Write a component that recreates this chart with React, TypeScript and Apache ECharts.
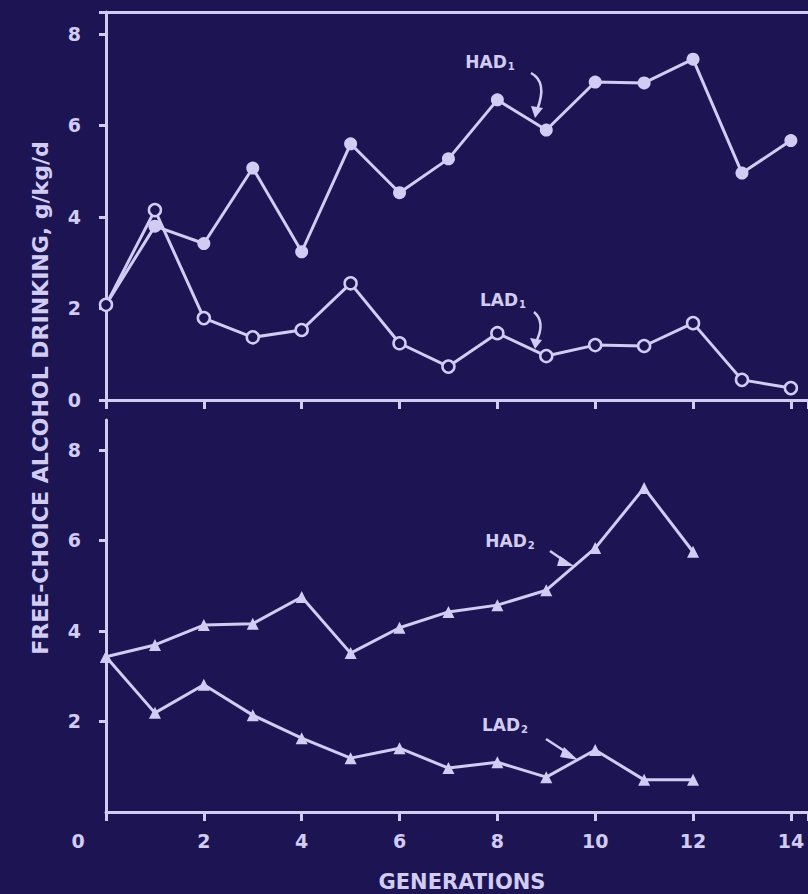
import React, { useEffect, useRef } from "react";
import * as echarts from "echarts";

const GENS_TOP = [0, 1, 2, 3, 4, 5, 6, 7, 8, 9, 10, 11, 12, 13, 14];
const HAD1 = [2.08, 3.8, 3.42, 5.07, 3.24, 5.6, 4.53, 5.27, 6.56, 5.9, 6.95, 6.93, 7.45, 4.96, 5.67];
const LAD1 = [2.08, 4.15, 1.79, 1.37, 1.53, 2.55, 1.24, 0.73, 1.46, 0.96, 1.2, 1.18, 1.68, 0.44, 0.26];

const GENS_BOTTOM = [0, 1, 2, 3, 4, 5, 6, 7, 8, 9, 10, 11, 12];
const HAD2 = [3.43, 3.69, 4.13, 4.16, 4.75, 3.51, 4.07, 4.42, 4.57, 4.9, 5.83, 7.16, 5.75];
const LAD2 = [3.43, 2.19, 2.81, 2.14, 1.63, 1.19, 1.41, 0.97, 1.1, 0.77, 1.37, 0.71, 0.71];

const X_TICKS = [0, 2, 4, 6, 8, 10, 12, 14];
const Y_TICKS_TOP = [0, 2, 4, 6, 8];
const Y_TICKS_BOTTOM = [2, 4, 6, 8];

const Y_TITLE = "FREE-CHOICE ALCOHOL DRINKING, g/kg/d";
const X_TITLE = "GENERATIONS";

const BG = "#1d1553";
const FG = "#d2ccf4";
const FONT = "DejaVu Sans";

function pairs(xs: number[], ys: number[]) {
  return xs.map((x, i) => [x, ys[i]]);
}

export default function App() {
  const ref = useRef<HTMLDivElement>(null);
  useEffect(() => {
    if (!ref.current) return;
    const chart = echarts.init(ref.current, null, { renderer: "svg" });
    const axisLine = { show: true, lineStyle: { color: FG, width: 3 } };
    const labelStyle = { color: FG, fontFamily: FONT, fontWeight: "bold" as const, fontSize: 19 };
    const subRich = {
      a: { fontSize: 17, fontWeight: "bold", fill: FG, fontFamily: FONT },
      s: { fontSize: 10, fontWeight: "bold", fill: FG, fontFamily: FONT, padding: [9, 0, 0, 1] },
    };
    const lbl = (name: string, sub: string, x: number, y: number) => ({
      type: "text",
      x,
      y,
      style: {
        text: `{a|${name}}{s|${sub}}`,
        rich: subRich,
        align: "center",
        verticalAlign: "middle",
      },
    });
    const arrowStyle = { stroke: FG, lineWidth: 2.5, fill: null };

    const option: any = {
      animation: false,
      backgroundColor: BG,
      grid: [
        { left: 106, top: 12, right: 0, height: 388 },
        { left: 106, top: 420, right: 0, height: 392 },
      ],
      xAxis: [
        {
          type: "value", gridIndex: 0, min: 0, max: 14.35, interval: 2,
          axisLine, axisTick: { show: true, length: 9, lineStyle: { color: FG, width: 3 } },
          axisLabel: { show: false }, splitLine: { show: false },
        },
        {
          type: "value", gridIndex: 0, position: "top", min: 0, max: 14.35,
          axisLine, axisTick: { show: false }, axisLabel: { show: false }, splitLine: { show: false },
        },
        {
          type: "value", gridIndex: 1, min: 0, max: 14.35, interval: 2,
          axisLine, axisTick: { show: true, length: 9, lineStyle: { color: FG, width: 3 } },
          axisLabel: {
            ...labelStyle,
            margin: 19,
            customValues: X_TICKS,
            formatter: (v: number) => (v === 0 ? `{z|0}` : `${v}`),
            rich: { z: { ...labelStyle, padding: [0, 56, 0, 0] } },
          },
          splitLine: { show: false },
        },
      ],
      yAxis: [
        {
          type: "value", gridIndex: 0, min: 0, max: 8.48, interval: 2,
          axisLine, axisTick: { show: true, length: 7, lineStyle: { color: FG, width: 3 } },
          axisLabel: { ...labelStyle, margin: 25, customValues: Y_TICKS_TOP },
          splitLine: { show: false },
        },
        {
          type: "value", gridIndex: 1, min: 0, max: 8.66, interval: 2,
          axisLine,
          axisTick: { show: true, length: 7, customValues: Y_TICKS_BOTTOM, lineStyle: { color: FG, width: 3 } },
          axisLabel: { ...labelStyle, margin: 25, customValues: Y_TICKS_BOTTOM },
          splitLine: { show: false },
        },
      ],
      series: [
        {
          name: "HAD1", type: "line", xAxisIndex: 0, yAxisIndex: 0,
          data: pairs(GENS_TOP, HAD1), symbol: "circle", symbolSize: 13,
          lineStyle: { color: FG, width: 3 }, itemStyle: { color: FG },
        },
        {
          name: "LAD1", type: "line", xAxisIndex: 0, yAxisIndex: 0,
          data: pairs(GENS_TOP, LAD1), symbol: "circle", symbolSize: 12,
          lineStyle: { color: FG, width: 3 }, itemStyle: { color: BG, borderColor: FG, borderWidth: 2.5 },
        },
        {
          name: "HAD2", type: "line", xAxisIndex: 2, yAxisIndex: 1,
          data: pairs(GENS_BOTTOM, HAD2), symbol: "triangle", symbolSize: 12,
          lineStyle: { color: FG, width: 3 }, itemStyle: { color: FG },
        },
        {
          name: "LAD2", type: "line", xAxisIndex: 2, yAxisIndex: 1,
          data: pairs(GENS_BOTTOM, LAD2), symbol: "triangle", symbolSize: 12,
          lineStyle: { color: FG, width: 3 }, itemStyle: { color: FG },
        },
      ],
      graphic: [
        {
          type: "text", x: 40, y: 398, rotation: Math.PI / 2,
          style: {
            text: Y_TITLE, fill: FG, fontFamily: FONT, fontWeight: "bold", fontSize: 22,
            align: "center", verticalAlign: "middle",
          },
        },
        {
          type: "text", x: 462, y: 882,
          style: {
            text: X_TITLE, fill: FG, fontFamily: FONT, fontWeight: "bold", fontSize: 21,
            align: "center", verticalAlign: "middle",
          },
        },
        lbl("HAD", "1", 490, 62),
        lbl("LAD", "1", 503, 300),
        lbl("HAD", "2", 510, 541),
        lbl("LAD", "2", 505, 725),
        { type: "bezierCurve", shape: { x1: 531, y1: 73, x2: 537, y2: 110, cpx1: 548, cpy1: 82 }, style: arrowStyle },
        { type: "polygon", shape: { points: [[531, 106], [543, 108], [535, 118]] }, style: { fill: FG } },
        { type: "bezierCurve", shape: { x1: 534, y1: 312, x2: 536, y2: 342, cpx1: 546, cpy1: 322 }, style: arrowStyle },
        { type: "polygon", shape: { points: [[530, 338], [542, 340], [535, 349]] }, style: { fill: FG } },
        { type: "line", shape: { x1: 550, y1: 551, x2: 566, y2: 562 }, style: { stroke: FG, lineWidth: 2.5 } },
        { type: "polygon", shape: { points: [[560, 556], [574, 566], [557, 566]] }, style: { fill: FG } },
        { type: "line", shape: { x1: 546, y1: 739, x2: 569, y2: 754 }, style: { stroke: FG, lineWidth: 2.5 } },
        { type: "polygon", shape: { points: [[564, 747], [578, 760], [560, 757]] }, style: { fill: FG } },
      ],
    };
    chart.setOption(option);
    return () => chart.dispose();
  }, []);
  return (
    <div
      ref={ref}
      style={{ position: "fixed", left: 0, top: 0, width: 808, height: 894 }}
    />
  );
}
